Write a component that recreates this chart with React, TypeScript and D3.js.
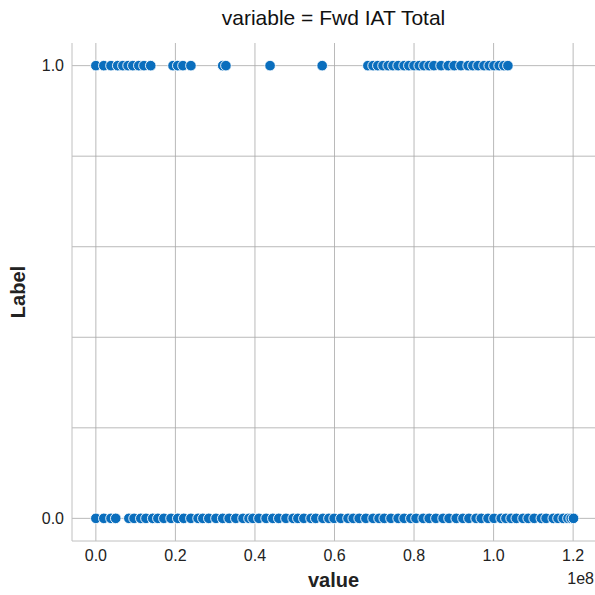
import React, { useEffect, useRef } from "react";
import * as d3 from "d3";

// Fwd IAT Total values (in units of 1e8) for each label row
const label1Values = [
  0.0, 0.02, 0.038, 0.055, 0.068, 0.081, 0.093, 0.108, 0.121, 0.138,
  0.194, 0.206, 0.219, 0.239, 0.319, 0.327, 0.438, 0.569,
  0.684, 0.697, 0.709, 0.722, 0.735, 0.747, 0.76, 0.775, 0.787, 0.8,
  0.813, 0.825, 0.838, 0.85, 0.868, 0.886, 0.901, 0.918, 0.936, 0.948,
  0.961, 0.976, 0.989, 1.001, 1.014, 1.026, 1.036,
];
const label0Values = [
  0.0, 0.02, 0.038, 0.05, 0.083, 0.096, 0.113, 0.126, 0.143, 0.156,
  0.171, 0.189, 0.206, 0.221, 0.239, 0.257, 0.269, 0.284, 0.302, 0.319,
  0.335, 0.352, 0.37, 0.385, 0.395, 0.41, 0.428, 0.445, 0.46, 0.478,
  0.496, 0.508, 0.523, 0.541, 0.553, 0.571, 0.586, 0.599, 0.616, 0.634,
  0.647, 0.662, 0.679, 0.697, 0.712, 0.725, 0.742, 0.76, 0.775, 0.792,
  0.805, 0.823, 0.838, 0.855, 0.873, 0.888, 0.906, 0.923, 0.938, 0.956,
  0.969, 0.986, 1.001, 1.019, 1.031, 1.044, 1.057, 1.074, 1.087, 1.102,
  1.12, 1.132, 1.15, 1.162, 1.175, 1.187, 1.195, 1.201,
];
const xTicks = [0, 0.2, 0.4, 0.6, 0.8, 1.0, 1.2];
const yGrid = [0, 0.2, 0.4, 0.6, 0.8, 1.0];
const yTickLabels = [0, 1];

export default function App() {
  const ref = useRef<SVGSVGElement>(null);

  useEffect(() => {
    const svg = d3.select(ref.current);
    svg.selectAll("*").remove();
    const W = 595;
    const H = 595;
    const m = { left: 72, right: 0, top: 43, bottom: 54 };
    const font = "'Liberation Sans', Arial, sans-serif";

    const x = d3.scaleLinear().domain([-0.06, 1.26]).range([m.left, W + 2]);
    const y = d3.scaleLinear().domain([-0.05, 1.05]).range([H - m.bottom, m.top]);

    const g = svg.append("g");

    // grid
    g.selectAll(".vg")
      .data(xTicks)
      .join("line")
      .attr("x1", (d) => x(d))
      .attr("x2", (d) => x(d))
      .attr("y1", y(-0.05))
      .attr("y2", y(1.05))
      .attr("stroke", "#a8a8a8")
      .attr("stroke-width", 0.8);
    g.selectAll(".hg")
      .data(yGrid)
      .join("line")
      .attr("x1", m.left)
      .attr("x2", W)
      .attr("y1", (d) => y(d))
      .attr("y2", (d) => y(d))
      .attr("stroke", "#a8a8a8")
      .attr("stroke-width", 0.8);

    // spines
    g.append("line")
      .attr("x1", m.left).attr("x2", m.left)
      .attr("y1", y(1.05)).attr("y2", y(-0.05))
      .attr("stroke", "#c0c0c0").attr("stroke-width", 1);
    g.append("line")
      .attr("x1", m.left).attr("x2", W)
      .attr("y1", y(-0.05)).attr("y2", y(-0.05))
      .attr("stroke", "#c0c0c0").attr("stroke-width", 1);

    // tick labels
    g.selectAll(".xt")
      .data(xTicks)
      .join("text")
      .attr("x", (d) => x(d))
      .attr("y", y(-0.05) + 20)
      .attr("text-anchor", "middle")
      .attr("font-family", font)
      .attr("font-size", 16)
      .attr("fill", "#222")
      .text((d) => d.toFixed(1));
    g.selectAll(".yt")
      .data(yTickLabels)
      .join("text")
      .attr("x", m.left - 8)
      .attr("y", (d) => y(d))
      .attr("dy", "0.35em")
      .attr("text-anchor", "end")
      .attr("font-family", font)
      .attr("font-size", 16)
      .attr("fill", "#222")
      .text((d) => d.toFixed(1));
    g.append("text")
      .attr("x", W - 1)
      .attr("y", 584)
      .attr("text-anchor", "end")
      .attr("font-family", font)
      .attr("font-size", 16)
      .attr("fill", "#222")
      .text("1e8");

    // points
    const pts = [
      ...label0Values.map((v) => ({ v, l: 0 })),
      ...label1Values.map((v) => ({ v, l: 1 })),
    ];
    g.selectAll(".pt")
      .data(pts)
      .join("circle")
      .attr("cx", (d) => x(d.v))
      .attr("cy", (d) => y(d.l))
      .attr("r", 5.3)
      .attr("fill", "#0a6ebd")
      .attr("stroke", "#fff")
      .attr("stroke-width", 0.9);

    // titles
    g.append("text")
      .attr("x", (m.left + W) / 2)
      .attr("y", 25)
      .attr("text-anchor", "middle")
      .attr("font-family", font)
      .attr("font-size", 21)
      .attr("fill", "#111")
      .text("variable = Fwd IAT Total");
    g.append("text")
      .attr("x", (m.left + W) / 2)
      .attr("y", 587)
      .attr("text-anchor", "middle")
      .attr("font-family", font)
      .attr("font-size", 20)
      .attr("font-weight", "bold")
      .attr("fill", "#222")
      .text("value");
    g.append("text")
      .attr("transform", `translate(25, ${(y(1.05) + y(-0.05)) / 2}) rotate(-90)`)
      .attr("text-anchor", "middle")
      .attr("font-family", font)
      .attr("font-size", 20)
      .attr("font-weight", "bold")
      .attr("fill", "#222")
      .text("Label");
  }, []);

  return (
    <svg
      ref={ref}
      width={595}
      height={595}
      style={{ position: "absolute", left: 0, top: 0, background: "#fff" }}
    />
  );
}
